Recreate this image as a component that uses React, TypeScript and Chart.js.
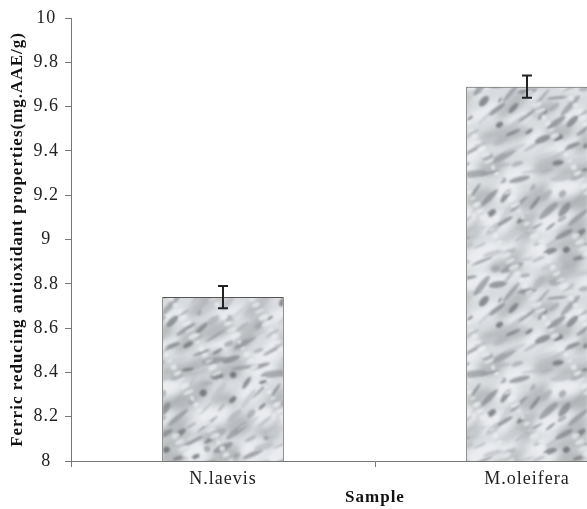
import React, { useEffect, useRef } from "react";
import { Chart, registerables } from "chart.js";

Chart.register(...registerables);

const categories = ["N.laevis", "M.oleifera"];
const values = [8.74, 9.69];
const errors = [0.05, 0.05];
const yTicks = [8, 8.2, 8.4, 8.6, 8.8, 9, 9.2, 9.4, 9.6, 9.8, 10];

function frac(v: number) {
  return v - Math.floor(v);
}

function makeMarble(): CanvasPattern | string {
  const S = 200;
  const c = document.createElement("canvas");
  c.width = S;
  c.height = S;
  const g = c.getContext("2d");
  if (!g) return "#cfd2d5";
  g.fillStyle = "#d9dcdf";
  g.fillRect(0, 0, S, S);
  const a1 = 0.7548776662;
  const a2 = 0.5698402910;
  const draw = (count: number, blur: number, fn: (i: number) => [number, number, number, number, number, string]) => {
    g.filter = `blur(${blur}px)`;
    for (let i = 0; i < count; i++) {
      const [cx, cy, rx, ry, rot, col] = fn(i);
      g.fillStyle = col;
      for (let dx = -S; dx <= S; dx += S) {
        for (let dy = -S; dy <= S; dy += S) {
          g.beginPath();
          g.ellipse(cx + dx, cy + dy, rx, ry, rot, 0, Math.PI * 2);
          g.fill();
        }
      }
    }
  };
  // broad light and mid patches
  draw(60, 3, (i) => {
    const s = frac(i * 0.4142135) > 0.5 ? 240 : 175;
    return [
      frac(0.3 + i * a1) * S,
      frac(0.6 + i * a2) * S,
      10 + frac(i * 0.318) * 16,
      5 + frac(i * 0.577) * 7,
      -0.5 + (frac(i * 0.271) - 0.5) * 0.8,
      `rgba(${s},${s + 2},${s + 5},0.75)`,
    ];
  });
  // dark streaks
  draw(170, 1.2, (i) => {
    const s = 95 + Math.floor(frac(i * 0.6180339) * 110);
    return [
      frac(0.5 + i * a1) * S,
      frac(0.5 + i * a2) * S,
      3 + frac(i * 0.2360679) * 11,
      1 + frac(i * 0.7320508) * 2.6,
      -0.55 + (frac(i * 0.1415926) - 0.5) * 0.9,
      `rgba(${s},${s + 3},${s + 8},0.75)`,
    ];
  });
  // fine light speckles
  draw(120, 0.8, (i) => [
    frac(0.1 + i * a1 * 1.3) * S,
    frac(0.9 + i * a2 * 1.7) * S,
    2 + frac(i * 0.853) * 4,
    1 + frac(i * 0.377) * 2,
    -0.4,
    "rgba(236,238,240,0.8)",
  ]);
  g.filter = "none";
  const p = g.createPattern(c, "repeat");
  return p || "#cfd2d5";
}

const spacing = {
  id: "spacing",
  beforeLayout(chart: any) {
    chart.ctx.letterSpacing = "1px";
  },
  beforeDraw(chart: any) {
    chart.ctx.letterSpacing = "1px";
  },
};

const errorBars = {
  id: "errorBars",
  afterDatasetsDraw(chart: any) {
    const ctx = chart.ctx;
    const meta = chart.getDatasetMeta(0);
    const ys = chart.scales.y;
    ctx.save();
    ctx.strokeStyle = "#222";
    ctx.lineWidth = 2;
    meta.data.forEach((bar: any, i: number) => {
      const x = bar.x;
      const t = ys.getPixelForValue(values[i] + errors[i]);
      const b = ys.getPixelForValue(values[i] - errors[i]);
      ctx.beginPath();
      ctx.moveTo(x, t);
      ctx.lineTo(x, b);
      ctx.moveTo(x - 5, t);
      ctx.lineTo(x + 5, t);
      ctx.moveTo(x - 5, b);
      ctx.lineTo(x + 5, b);
      ctx.stroke();
    });
    ctx.restore();
  },
};

export default function App() {
  const ref = useRef<HTMLCanvasElement>(null);
  useEffect(() => {
    if (!ref.current) return;
    const fill = makeMarble();
    const chart = new Chart(ref.current, {
      type: "bar",
      data: {
        labels: categories,
        datasets: [
          {
            data: values,
            backgroundColor: fill as any,
            borderColor: "#555",
            borderWidth: 1,
            barPercentage: 0.4,
            categoryPercentage: 1,
          },
        ],
      },
      plugins: [spacing, errorBars],
      options: {
        responsive: false,
        animation: false,
        layout: { padding: { top: 18, right: 0, left: 0, bottom: 0 } },
        plugins: { legend: { display: false }, tooltip: { enabled: false } },
        scales: {
          x: {
            grid: {
              display: true,
              drawOnChartArea: false,
              tickLength: 6,
              color: "#777",
              offset: true,
            },
            border: { color: "#777", width: 1 },
            ticks: {
              color: "#222",
              font: { family: "'Liberation Serif', serif", size: 18 },
              padding: 1,
            },
            title: {
              display: true,
              text: "Sample",
              color: "#111",
              font: { family: "'Liberation Serif', serif", size: 17, weight: "bold" },
              padding: { top: 0, bottom: 1 },
            },
            afterFit(scale: any) {
              scale.height = 48;
            },
          },
          y: {
            min: 8,
            max: 10,
            afterBuildTicks(scale: any) {
              scale.ticks = yTicks.map((v) => ({ value: v }));
            },
            grid: {
              display: true,
              drawOnChartArea: false,
              tickLength: 6,
              color: "#777",
            },
            border: { color: "#777", width: 1 },
            ticks: {
              color: "#222",
              font: { family: "'Liberation Serif', serif", size: 18 },
              padding: 6,
              crossAlign: "center",
              callback: (v: any) => String(Math.round(Number(v) * 10) / 10),
            },
            title: {
              display: true,
              text: "Ferric reducing antioxidant properties(mg.AAE/g)",
              color: "#111",
              font: { family: "'Liberation Serif', serif", size: 17, weight: "bold" },
              padding: { top: 7, bottom: 0 },
            },
            afterFit(scale: any) {
              scale.width = 71;
            },
          },
        },
      },
    });
    return () => chart.destroy();
  }, []);
  return (
    <div
      style={{
        position: "absolute",
        left: 0,
        top: 0,
        width: 587,
        height: 509,
        overflow: "hidden",
        background: "#fff",
      }}
    >
      <canvas ref={ref} width={679} height={509} />
    </div>
  );
}
